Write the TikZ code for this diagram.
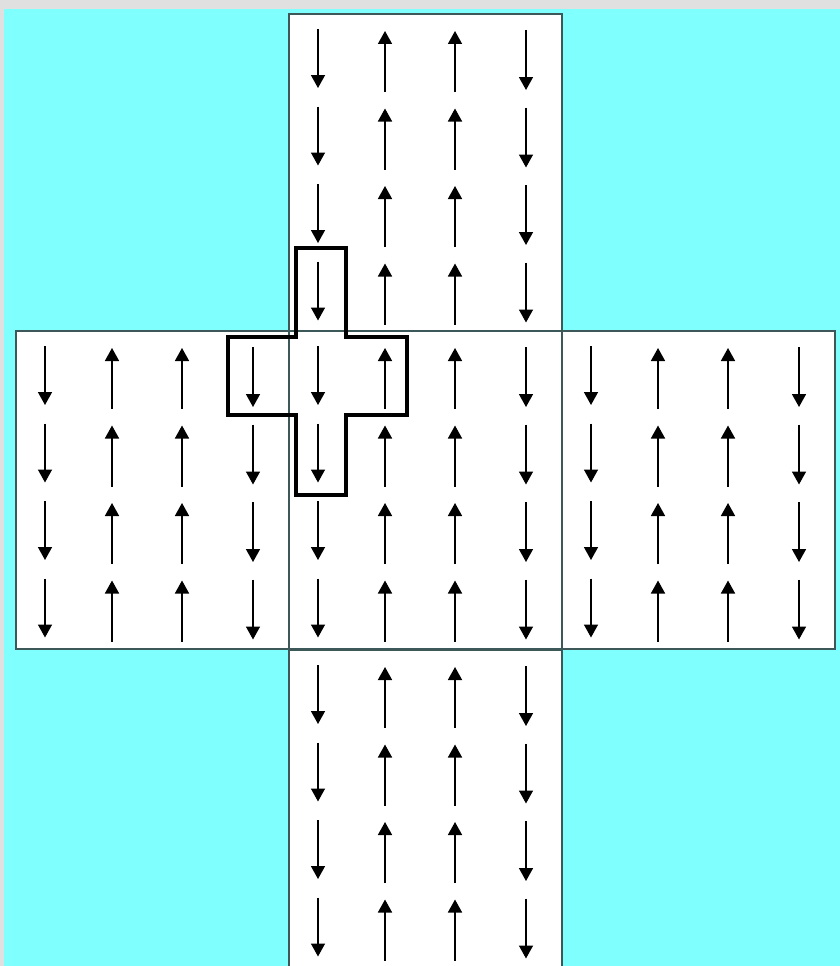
\documentclass[tikz,border=0pt]{standalone}
\usetikzlibrary{arrows.meta}
\definecolor{bgc}{HTML}{80FFFF}
\definecolor{edgeg}{HTML}{E0E0E0}
\definecolor{panelline}{HTML}{3C5858}
\begin{document}
\begin{tikzpicture}[x=1pt,y=-1pt,
  shaft/.style={line width=1.6pt, draw=black!75, -{Triangle[width=14pt,length=13pt]}, black},
  panel/.style={fill=white, draw=panelline, line width=1.4pt},
  crossline/.style={draw=black, line width=4.5pt, line join=miter}]
\useasboundingbox (0,0) rectangle (840,966);
\clip (0,0) rectangle (840,966);
\fill[edgeg] (0,0) rectangle (840,966);
\fill[bgc] (4,9) rectangle (840,966);
% panels
\foreach \px/\py in {289/14,16/331,289/331,562/331,289/650}{
  \draw[panel] (\px,\py) rectangle ++(273,318);
}
% arrows
\foreach \px/\py in {289/14,16/331,289/331,562/331,289/650}{
  \foreach \i in {0,...,3}{
    \draw[shaft] (\px+29,\py+15+77.5*\i) -- (\px+29,\py+74+77.5*\i);
    \draw[shaft] (\px+96,\py+78+77.5*\i) -- (\px+96,\py+17+77.5*\i);
    \draw[shaft] (\px+166,\py+78+77.5*\i) -- (\px+166,\py+17+77.5*\i);
    \draw[shaft] (\px+237,\py+16+77.5*\i) -- (\px+237,\py+76+77.5*\i);
  }
}
% cross outline
\draw[crossline] (296,248) -- (346,248) -- (346,337) -- (407,337) -- (407,415)
  -- (346,415) -- (346,495) -- (296,495) -- (296,415) -- (228,415)
  -- (228,337) -- (296,337) -- cycle;
\end{tikzpicture}
\end{document}
